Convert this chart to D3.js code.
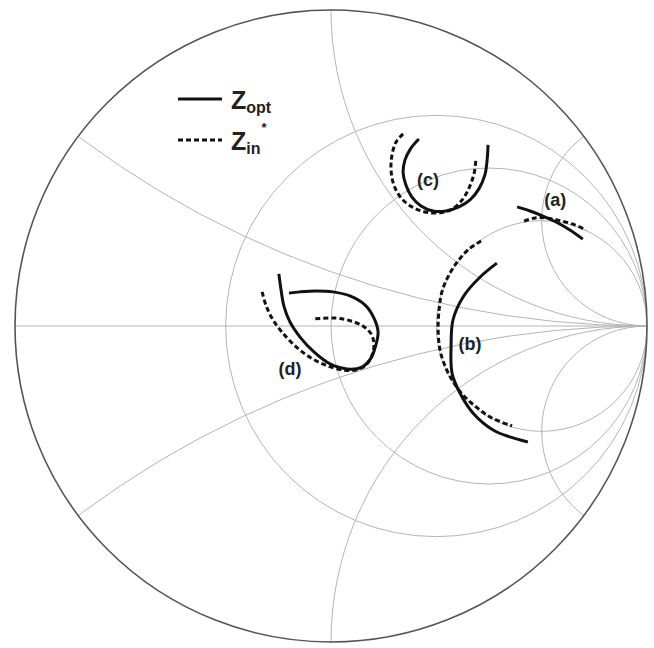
<!DOCTYPE html>
<meta charset="utf-8">
<style>
body {
  margin: 0;
  background: #fff;
}
.grid {
  fill: none;
  stroke: #b4b4b4;
  stroke-width: 1px;
}
.rim {
  fill: none;
  stroke: #555;
  stroke-width: 1.6px;
}
.trace {
  fill: none;
  stroke: #111;
  stroke-width: 3px;
  stroke-linecap: butt;
}
.dashed {
  stroke-dasharray: 5,3;
}
text {
  font-family: "Liberation Sans", Arial, sans-serif;
  font-weight: bold;
  fill: #222;
}
</style>
<body>
<script src="https://cdn.jsdelivr.net/npm/d3@7"></script>
<script>
var width = 654,
    height = 648;

// Smith chart grid values (normalised)
var resistances = [0.5, 1, 2];
var reactances = [1 / 3, 1, 3];

// traces in reflection coefficient coords [re, im]
var zoptA = [[0.589, 0.377], [0.630, 0.364], [0.671, 0.348], [0.712, 0.329], [0.756, 0.304], [0.797, 0.275]];
var zinA = [[0.611, 0.332], [0.646, 0.342], [0.680, 0.342], [0.718, 0.335], [0.763, 0.323], [0.807, 0.304]];

var zoptB = [[0.525, 0.199], [0.472, 0.155], [0.418, 0.092], [0.386, 0.019], [0.380, -0.066], [0.383, -0.149],
  [0.408, -0.212], [0.449, -0.275], [0.513, -0.329], [0.566, -0.351], [0.623, -0.367]];
var zinB = [[0.475, 0.269], [0.437, 0.244], [0.402, 0.206], [0.373, 0.161], [0.351, 0.108], [0.342, 0.051],
  [0.339, -0.013], [0.345, -0.076], [0.361, -0.127], [0.383, -0.171], [0.415, -0.215], [0.459, -0.256],
  [0.509, -0.291], [0.573, -0.316]];

var zoptC = [[0.278, 0.592], [0.253, 0.563], [0.234, 0.525], [0.228, 0.487], [0.237, 0.446], [0.256, 0.408],
  [0.285, 0.380], [0.323, 0.364], [0.364, 0.364], [0.405, 0.377], [0.440, 0.399], [0.468, 0.434],
  [0.487, 0.478], [0.494, 0.525], [0.497, 0.573]];
var zinC = [[0.228, 0.608], [0.206, 0.582], [0.193, 0.541], [0.190, 0.494], [0.199, 0.446], [0.222, 0.405],
  [0.256, 0.377], [0.297, 0.361], [0.345, 0.358], [0.383, 0.370], [0.415, 0.399], [0.437, 0.437],
  [0.453, 0.484], [0.459, 0.532]];

var zoptD = [[-0.165, 0.165], [-0.158, 0.114], [-0.149, 0.063], [-0.130, 0.013], [-0.098, -0.035], [-0.054, -0.082],
  [-0.003, -0.120], [0.051, -0.136], [0.098, -0.130], [0.127, -0.101], [0.142, -0.060], [0.149, -0.019],
  [0.136, 0.025], [0.108, 0.066], [0.060, 0.095], [0.006, 0.108], [-0.047, 0.111], [-0.098, 0.108], [-0.133, 0.104]];
var zinD = [[-0.218, 0.108], [-0.206, 0.066], [-0.187, 0.025], [-0.158, -0.016], [-0.120, -0.057], [-0.073, -0.095],
  [-0.019, -0.123], [0.035, -0.139], [0.079, -0.139], [0.111, -0.123], [0.130, -0.092], [0.136, -0.057],
  [0.127, -0.025], [0.101, 0.000], [0.063, 0.016], [0.016, 0.025], [-0.060, 0.022]];

var labels = [
  {name: "(a)", at: [0.710, 0.400]},
  {name: "(b)", at: [0.440, -0.055]},
  {name: "(c)", at: [0.307, 0.462]},
  {name: "(d)", at: [-0.130, -0.135]}
];

var cx = 331, cy = 326, R = 316;
var x = d3.scaleLinear().domain([-1, 1]).range([cx - R, cx + R]);
var y = d3.scaleLinear().domain([-1, 1]).range([cy + R, cy - R]);
var len = function(v) { return x(v) - x(0); };

var svg = d3.select("body").append("svg")
    .attr("width", width)
    .attr("height", height);

svg.append("clipPath")
    .attr("id", "disc")
  .append("circle")
    .attr("cx", x(0))
    .attr("cy", y(0))
    .attr("r", len(1));

var grid = svg.append("g").attr("clip-path", "url(#disc)");

grid.append("line")
    .attr("class", "grid")
    .attr("x1", x(-1)).attr("x2", x(1))
    .attr("y1", y(0)).attr("y2", y(0));

grid.selectAll(".rcircle")
    .data(resistances)
  .enter().append("circle")
    .attr("class", "grid rcircle")
    .attr("cx", function(r) { return x(r / (1 + r)); })
    .attr("cy", y(0))
    .attr("r", function(r) { return len(1 / (1 + r)); });

var xs = [];
reactances.forEach(function(v) { xs.push(v, -v); });
grid.selectAll(".xcircle")
    .data(xs)
  .enter().append("circle")
    .attr("class", "grid xcircle")
    .attr("cx", x(1))
    .attr("cy", function(v) { return y(1 / v); })
    .attr("r", function(v) { return len(1 / Math.abs(v)); });

svg.append("circle")
    .attr("class", "rim")
    .attr("cx", x(0))
    .attr("cy", y(0))
    .attr("r", len(1));

var line = d3.line()
    .x(function(d) { return x(d[0]); })
    .y(function(d) { return y(d[1]); })
    .curve(d3.curveCatmullRom);

[zoptA, zoptB, zoptC, zoptD].forEach(function(s) {
  svg.append("path").datum(s).attr("class", "trace").attr("d", line);
});
[zinA, zinB, zinC, zinD].forEach(function(s) {
  svg.append("path").datum(s).attr("class", "trace dashed").attr("d", line);
});

svg.selectAll(".lbl")
    .data(labels)
  .enter().append("text")
    .attr("class", "lbl")
    .attr("x", function(d) { return x(d.at[0]); })
    .attr("y", function(d) { return y(d.at[1]); })
    .attr("text-anchor", "middle")
    .attr("dy", "0.35em")
    .style("font-size", "18px")
    .text(function(d) { return d.name; });

// legend
var legend = svg.append("g").attr("transform", "translate(178,99)");
legend.append("line").attr("class", "trace").attr("x1", 0).attr("x2", 44).attr("y1", 0).attr("y2", 0);
legend.append("line").attr("class", "trace dashed").attr("x1", 0).attr("x2", 44).attr("y1", 41).attr("y2", 41);

var t1 = legend.append("text").attr("x", 53).attr("y", 10).style("font-size", "25px");
t1.append("tspan").text("Z");
t1.append("tspan").attr("dy", 4).style("font-size", "16px").text("opt");

var t2 = legend.append("text").attr("x", 53).attr("y", 51).style("font-size", "25px");
t2.append("tspan").text("Z");
t2.append("tspan").attr("dy", 4).style("font-size", "16px").text("in");
t2.append("tspan").attr("dy", -22).attr("dx", 1).style("font-size", "13px").text("*");
</script>
